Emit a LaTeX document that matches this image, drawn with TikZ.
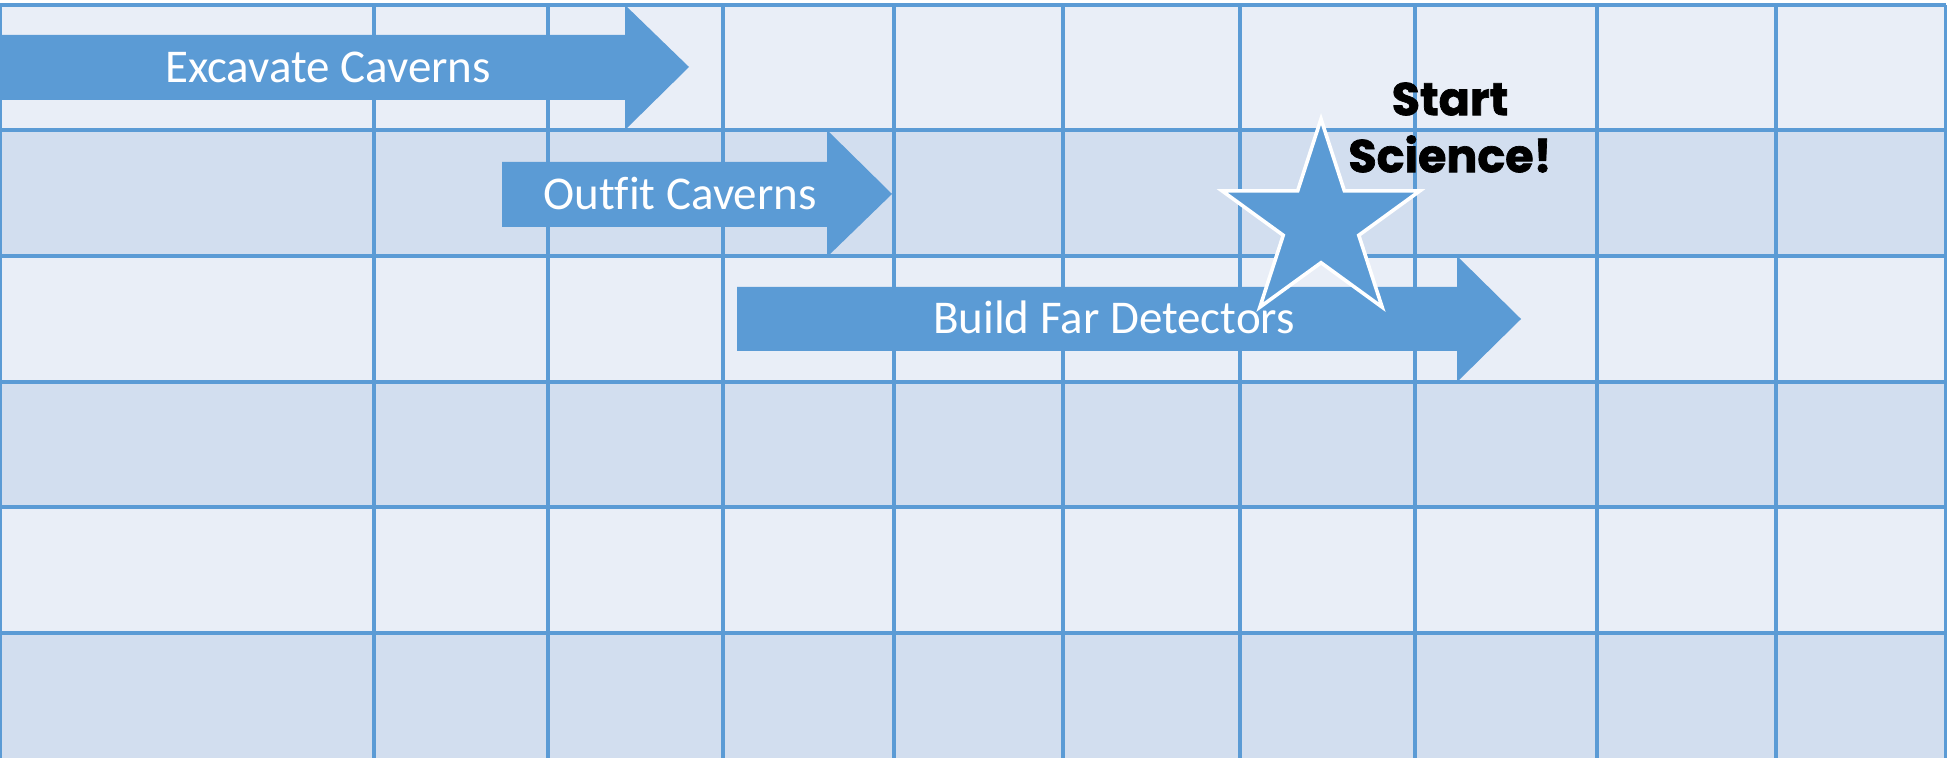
\documentclass[tikz,border=0pt]{standalone}
\usepackage{fontspec}
\setmainfont{Carlito}[Ligatures=NoCommon]
\newfontfamily\starfont{Poppins}[BoldFeatures={FakeBold=1.5}]
\usepackage{tikz}
\usetikzlibrary{shapes.geometric}
\definecolor{barblue}{RGB}{91,155,213}
\definecolor{rowlight}{RGB}{233,238,247}
\definecolor{rowdark}{RGB}{210,222,239}
\tikzset{
  bandlight/.style={fill=rowlight},
  banddark/.style={fill=rowdark},
  gridline/.style={draw=barblue,line width=1.6pt},
  taskbar/.style={fill=barblue},
  tasklabel/.style={text=white,font=\fontsize{23.5}{28}\selectfont,
    inner sep=0pt,anchor=base},
  milestone/.style={star,star points=5,star point ratio=2.618,
    fill=barblue,draw=white,line width=1.8pt,minimum size=104pt,inner sep=0pt},
  goaltext/.style={font=\starfont\bfseries\fontsize{23}{28.5}\selectfont,
    align=center,inner sep=0pt}
}
\begin{document}
\begin{tikzpicture}[x=0.5pt,y=-0.5pt]
  \useasboundingbox (0,0) rectangle (1947,758);
  \fill[white] (0,0) rectangle (1947,758);
  % table bands
  \foreach \ytop/\ybot/\band in {5/130/bandlight,130/256/banddark,256/382/bandlight,
      382/507/banddark,507/633/bandlight,633/758/banddark}
    {\path[\band] (0,\ytop) rectangle (1946,\ybot);}
  \foreach \y in {5,130,256,382,507,633} {\draw[gridline] (0,\y) -- (1946,\y);}
  \foreach \x in {0,374,548,723,894,1063,1240,1415,1597,1776,1946}
    {\draw[gridline] (\x,5) -- (\x,758);}
  % task arrows
  \fill[taskbar] (0,35) -- (625,35) -- (625,5) -- (689,67) -- (625,130)
    -- (625,100) -- (0,100) -- cycle;
  \fill[taskbar] (502,162) -- (827,162) -- (827,130) -- (892,194) -- (827,257)
    -- (827,227) -- (502,227) -- cycle;
  \fill[taskbar] (737,287) -- (1457,287) -- (1457,256) -- (1521,319) -- (1457,382)
    -- (1457,351) -- (737,351) -- cycle;
  % milestone
  \node[milestone] (star) at (1321,223) {};
  \node[goaltext] (goal) at (1450,127.5) {Start\\Science!};
  \node[tasklabel] (excavate) at (328,82.5) {Excavate Caverns};
  \node[tasklabel] (outfit) at (680,209.5) {Outfit Caverns};
  \node[tasklabel] (build) at (1114,334) {Build Far Detectors};
\end{tikzpicture}
\end{document}
